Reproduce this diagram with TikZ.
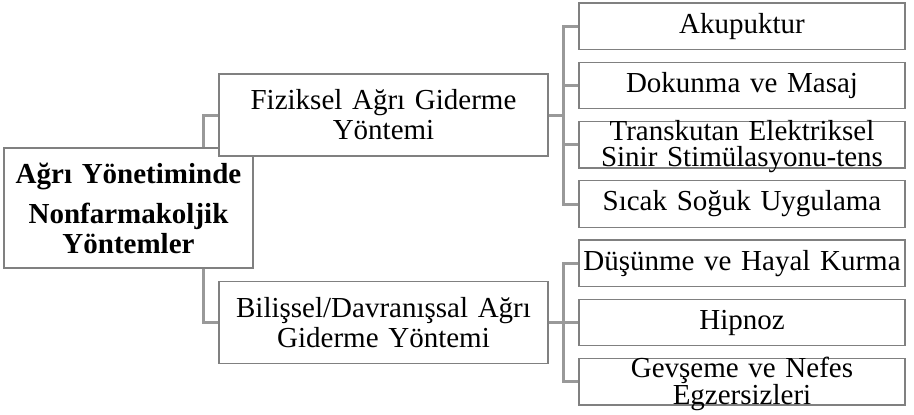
\documentclass[tikz,border=0pt]{standalone}
\usepackage{fontspec}
\setmainfont{Liberation Serif}
\usetikzlibrary{positioning}

\begin{document}
\begin{tikzpicture} [
        x = 1pt, y = -1pt,
        node distance = 11.55pt,
        box/.style = {draw=black!50, line width=1.2pt, fill=white, inner sep=0pt, align=center, font=\fontsize{29}{30}\selectfont},
        root/.style = {box, text width=249pt, minimum height=120pt, font=\fontsize{29}{30}\selectfont\bfseries},
        group/.style = {box, text width=329pt, minimum height=82pt},
        leaf/.style = {box, text width=326pt, minimum height=46.5pt},
        squeeze/.style = {text height=0pt, text depth=8.5pt, font=\fontsize{29}{25.5}\selectfont},
        link/.style = {draw=black!40, line width=3pt}
    ]

    \useasboundingbox (0,0) rectangle (914,415);

    \node[root]  (root) at (128.5,208)  {Ağrı Yönetiminde\\[10pt] Nonfarmakoljik\\ Yöntemler};
    \node[group] (fiz)  at (383.5,115)  {Fiziksel Ağrı Giderme\\ Yöntemi};
    \node[group] (bil)  at (383.5,322.5) {Bilişsel/Davranışsal Ağrı\\ Giderme Yöntemi};

    \node[leaf] (ak) at (742,26.25) {Akupuktur};
    \node[leaf, below=of ak] (dk) {Dokunma ve Masaj};
    \node[leaf, squeeze, below=of dk] (tr) {Transkutan Elektriksel\\ Sinir Stimülasyonu-tens};
    \node[leaf, below=of tr] (sc) {Sıcak Soğuk Uygulama};
    \node[leaf, below=of sc] (dh) {Düşünme ve Hayal Kurma};
    \node[leaf, below=of dh] (hp) {Hipnoz};
    \node[leaf, squeeze, below=of hp] (gv) {Gevşeme ve Nefes\\ Egzersizleri};

    \coordinate (fj) at ([xshift=15pt]fiz.east);
    \coordinate (bj) at ([xshift=15pt]bil.east);

    \draw[link] ([xshift=-15pt]fiz.west |- root.north) |- (fiz.west);
    \draw[link] ([xshift=-15pt]bil.west |- root.south) |- (bil.west);

    \draw[link] (fiz.east) -- (fj);
    \draw[link] (ak.west) -| (fj) |- (sc.west);
    \draw[link] (fj |- dk.west) -- (dk.west);
    \draw[link] (fj |- tr.west) -- (tr.west);

    \draw[link] (bil.east) -- (bj);
    \draw[link] (bj |- hp.west) -- (hp.west);
    \draw[link] (dh.west) -| (bj) |- (gv.west);

\end{tikzpicture}
\end{document}
